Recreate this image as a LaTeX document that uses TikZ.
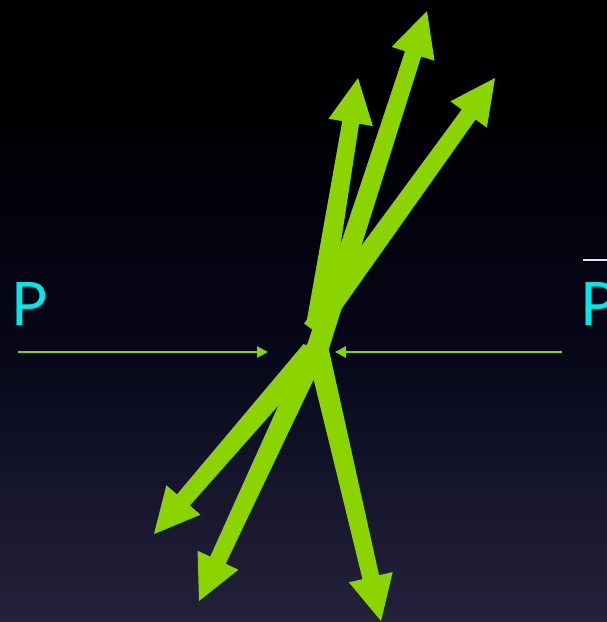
\documentclass[tikz,border=0pt]{standalone}
\usepackage{fontspec}
\setmainfont{Lato}
\usetikzlibrary{calc,arrows.meta}
\definecolor{fatgreen}{RGB}{140,212,0}
\definecolor{pcyan}{RGB}{0,232,232}
\definecolor{bgA}{RGB}{36,34,58}
\definecolor{bgB}{RGB}{20,20,42}
\definecolor{bgC}{RGB}{7,7,25}
\definecolor{bgD}{RGB}{2,2,12}
\pgfdeclareverticalshading{nightsky}{100bp}{%
  color(0bp)=(bgA); color(25bp)=(bgA); color(37bp)=(bgB); color(47bp)=(bgC);
  color(59bp)=(bgD); color(67bp)=(black); color(100bp)=(black)}
\newcommand\fatarrow[2]{%
  \coordinate (#2-h) at ($(#2)!45pt!(#1)$);
  \fill[fatgreen] ($(#1)!11pt!90:(#2)$) -- ($(#2-h)!8.5pt!90:(#2)$) -- ($(#2-h)!22.5pt!90:(#2)$) -- (#2) -- ($(#2-h)!22.5pt!-90:(#2)$) -- ($(#2-h)!8.5pt!-90:(#2)$) -- ($(#1)!11pt!-90:(#2)$) -- cycle;}
\tikzset{
  thinarrow/.style={draw=fatgreen, line width=2.6pt, -{Triangle[length=11pt,width=11pt]}},
  plabel/.style={text=pcyan, font=\fontsize{60}{60}\selectfont, inner sep=0pt, anchor=base west}
}
\begin{document}
\begin{tikzpicture}[x=1pt,y=-1pt]
  \shade[shading=nightsky] (0,0) rectangle (607,622);
  \useasboundingbox (0,0) rectangle (607,622);
  % start and tip points
  \coordinate (s1) at (317,326); \coordinate (t1) at (358,78);
  \coordinate (s2) at (317,350); \coordinate (t2) at (427,11);
  \coordinate (s3) at (313,330); \coordinate (t3) at (495,78);
  \coordinate (s4) at (312,351); \coordinate (t4) at (154,534);
  \coordinate (s5) at (316,349); \coordinate (t5) at (199,601);
  \coordinate (s6) at (317,347); \coordinate (t6) at (381,621);
  \fatarrow{s1}{t1}
  \fatarrow{s2}{t2}
  \fatarrow{s3}{t3}
  \fatarrow{s4}{t4}
  \fatarrow{s5}{t5}
  \fatarrow{s6}{t6}
  % incoming beams
  \coordinate (pstart) at (18,352); \coordinate (pend) at (268,352);
  \coordinate (qstart) at (562,352); \coordinate (qend) at (335,352);
  \draw[thinarrow] (pstart) -- (pend);
  \draw[thinarrow] (qstart) -- (qend);
  % labels
  \node[plabel] (p) at (11,325) {P};
  \node[plabel] (pbar) at (580,325) {P};
  \coordinate (barl) at (583,260); \coordinate (barr) at (607,260);
  \draw[white!90!black, line width=2.2pt] (barl) -- (barr);
\end{tikzpicture}
\end{document}
